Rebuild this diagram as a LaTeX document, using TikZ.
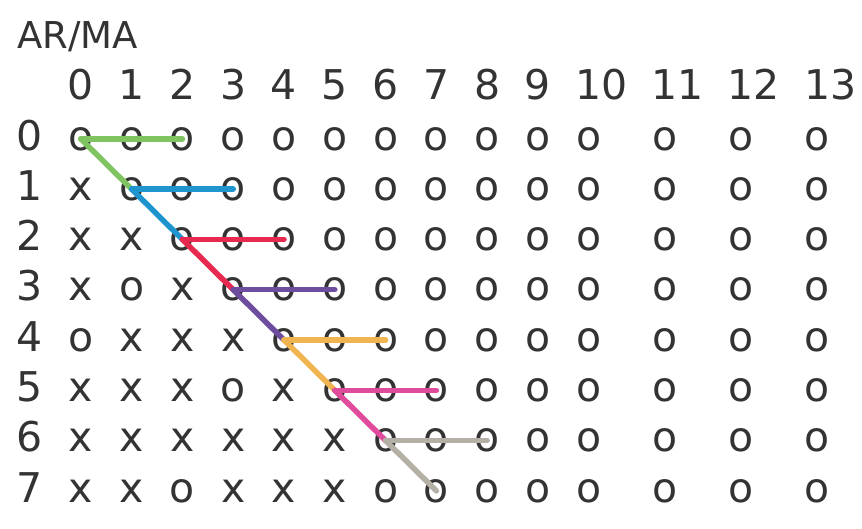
\documentclass[tikz,border=0pt]{standalone}
\usepackage{fontspec}
\setmainfont{DejaVu Sans}
\definecolor{linkGreen}{HTML}{80C462}
\definecolor{linkBlue}{HTML}{1F95CF}
\definecolor{linkRed}{HTML}{E8294F}
\definecolor{linkPurple}{HTML}{6E4C9E}
\definecolor{linkOrange}{HTML}{F0B550}
\definecolor{linkPink}{HTML}{E04B9B}
\definecolor{linkGray}{HTML}{B5B0A5}
\begin{document}
\begin{tikzpicture}[
    x=1pt, y=-1pt,
    every node/.append style={font=\fontsize{41}{49}\selectfont, text=black!80, inner sep=0pt},
    cell/.style={anchor=base, text height=22.4pt, text depth=0pt},
    link/.style={line width=5.5pt, line cap=round, draw=#1}
]
    \useasboundingbox (0,0) rectangle (862,528);

    % Titel
    \node[anchor=base west, font=\fontsize{37}{44}\selectfont] (title) at (17,48) {AR/MA};

    % Kopfzeile MA
    \foreach \k in {0,...,13} {
        \pgfmathsetmacro{\x}{30+25.4*(\k<11 ? 2+2*\k : 3*\k-8) + 12.7*(\k>9)}
        \node[anchor=base] (head\k) at (\x,99.7) {\k};
    }

    % Zeilen AR
    \foreach \r/\cells in {
        0/{o,o,o,o,o,o,o,o,o,o,o,o,o,o},
        1/{x,o,o,o,o,o,o,o,o,o,o,o,o,o},
        2/{x,x,o,o,o,o,o,o,o,o,o,o,o,o},
        3/{x,o,x,o,o,o,o,o,o,o,o,o,o,o},
        4/{o,x,x,x,o,o,o,o,o,o,o,o,o,o},
        5/{x,x,x,o,x,o,o,o,o,o,o,o,o,o},
        6/{x,x,x,x,x,x,o,o,o,o,o,o,o,o},
        7/{x,x,o,x,x,x,o,o,o,o,o,o,o,o}} {
        \node[anchor=base] (row\r) at (30,150+50.3*\r) {\r};
        \foreach \c [count=\k from 0] in \cells {
            \pgfmathsetmacro{\x}{30+25.4*(\k<11 ? 2+2*\k : 3*\k-8)}
            \node[cell] (cell\r-\k) at (\x,150+50.3*\r) {\c};
        }
    }

    % Verbindungen
    \foreach \r/\col in {0/linkGreen, 1/linkBlue, 2/linkRed, 3/linkPurple, 4/linkOrange, 5/linkPink, 6/linkGray} {
        \pgfmathtruncatemacro{\rr}{\r+1}
        \pgfmathtruncatemacro{\kk}{\r+2}
        \draw[link=\col] (cell\r-\r.center) -- (cell\r-\kk.center);
        \draw[link=\col] (cell\r-\r.center) -- (cell\rr-\rr.center);
    }

\end{tikzpicture}
\end{document}
